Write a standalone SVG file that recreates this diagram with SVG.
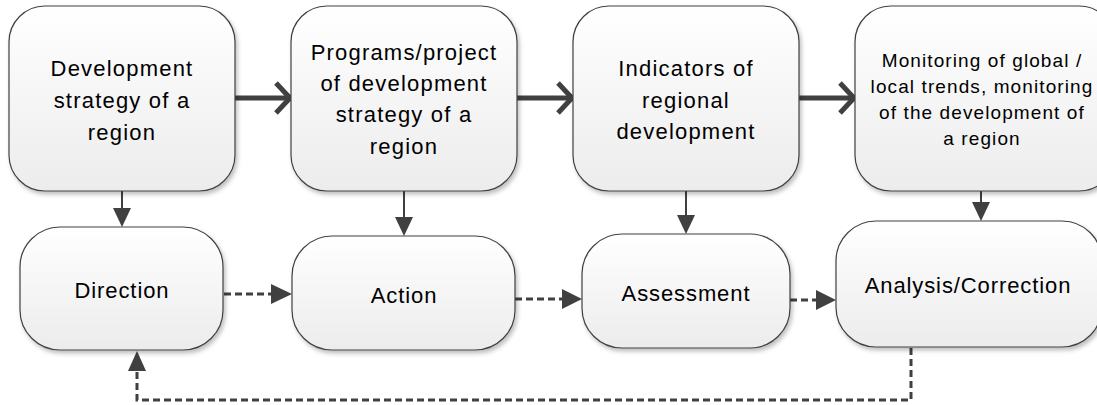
<svg xmlns="http://www.w3.org/2000/svg" width="1097" height="405" viewBox="0 0 1097 405">
  <defs>
    <linearGradient id="boxFill" x1="0" y1="0" x2="0" y2="1">
      <stop offset="0" stop-color="#ffffff"/>
      <stop offset="1" stop-color="#ececec"/>
    </linearGradient>
    <filter id="shadow" x="-10%" y="-10%" width="125%" height="130%">
      <feDropShadow dx="2" dy="3" stdDeviation="2" flood-color="#000" flood-opacity="0.25"/>
    </filter>
    <marker id="tri" viewBox="0 0 10 10" refX="10" refY="5" markerWidth="9" markerHeight="9" markerUnits="userSpaceOnUse" orient="auto">
      <path d="M0,0 L10,5 L0,10 Z" fill="#404040"/>
    </marker>
  </defs>
  <style>
    .box { fill: url(#boxFill); stroke: #404040; stroke-width: 1.2; filter: url(#shadow); }
    .t { font-family: "Liberation Sans", Arial, sans-serif; font-size: 22px; letter-spacing: 1.2px; fill: #000; text-anchor: middle; }
    .s { font-size: 19px; letter-spacing: 1.1px; }
    .b { letter-spacing: 0.9px; }
    .thick { fill: none; stroke: #404040; stroke-width: 5; }
    .thin { fill: none; stroke: #404040; stroke-width: 2; }
    .dash { fill: none; stroke: #404040; stroke-width: 3; stroke-dasharray: 7 4; }
    .head { fill: #404040; stroke: none; }
  </style>

  <!-- connectors -->
  <g id="connectors">
    <!-- strategy chain, bold open arrows -->
    <line class="thick" x1="233" y1="98" x2="289" y2="98"/>
    <polyline class="thick" points="276,83 290,98 276,113"/>
    <line class="thick" x1="515" y1="98" x2="571" y2="98"/>
    <polyline class="thick" points="558,83 572,98 558,113"/>
    <line class="thick" x1="797" y1="98" x2="853" y2="98"/>
    <polyline class="thick" points="840,83 854,98 840,113"/>

    <!-- top row down to bottom row -->
    <line class="thin" x1="122" y1="191" x2="122" y2="210"/>
    <path class="head" d="M113,208 L131,208 L122,227 Z"/>
    <line class="thin" x1="404" y1="191" x2="404" y2="219"/>
    <path class="head" d="M395,217 L413,217 L404,236 Z"/>
    <line class="thin" x1="686" y1="191" x2="686" y2="217"/>
    <path class="head" d="M677,215 L695,215 L686,234 Z"/>
    <polyline class="thin" points="967,190 981,190 981,204"/>
    <path class="head" d="M972,202 L990,202 L981,221 Z"/>

    <!-- dashed flow along bottom row -->
    <line class="dash" x1="224" y1="294" x2="272" y2="294"/>
    <path class="head" d="M271,284 L292,294 L271,304 Z"/>
    <line class="dash" x1="515" y1="299" x2="563" y2="299"/>
    <path class="head" d="M562,289 L582,299 L562,309 Z"/>
    <line class="dash" x1="790" y1="300" x2="817" y2="300"/>
    <path class="head" d="M816,290 L836,300 L816,310 Z"/>

    <!-- feedback loop back to Direction -->
    <polyline class="dash" points="911,348 911,400 137,400 137,371"/>
    <path class="head" d="M128,371 L146,371 L137,351 Z"/>
  </g>

  <!-- top row -->
  <g id="strategy">
    <rect class="box" x="9" y="6" width="226" height="185" rx="36" ry="36"/>
    <text class="t" x="122" y="76">Development</text>
    <text class="t" x="122" y="108">strategy of a</text>
    <text class="t" x="122" y="140">region</text>
  </g>
  <g id="programs">
    <rect class="box" x="291" y="6" width="226" height="185" rx="36" ry="36"/>
    <text class="t" x="404" y="60">Programs/project</text>
    <text class="t" x="404" y="91">of development</text>
    <text class="t" x="404" y="122">strategy of a</text>
    <text class="t" x="404" y="154">region</text>
  </g>
  <g id="indicators">
    <rect class="box" x="573" y="6" width="226" height="185" rx="36" ry="36"/>
    <text class="t" x="686" y="76">Indicators of</text>
    <text class="t" x="686" y="108">regional</text>
    <text class="t" x="686" y="139">development</text>
  </g>
  <g id="monitoring">
    <rect class="box" x="855" y="6" width="260" height="185" rx="36" ry="36"/>
    <text class="t s" x="982" y="67">Monitoring of global /</text>
    <text class="t s" x="982" y="93">local trends, monitoring</text>
    <text class="t s" x="982" y="119">of the development of</text>
    <text class="t s" x="982" y="145">a region</text>
  </g>

  <!-- bottom row -->
  <g id="direction">
    <rect class="box" x="20" y="227" width="203" height="123" rx="40" ry="40"/>
    <text class="t b" x="122" y="298">Direction</text>
  </g>
  <g id="action">
    <rect class="box" x="292" y="236" width="223" height="114" rx="40" ry="40"/>
    <text class="t b" x="404" y="303">Action</text>
  </g>
  <g id="assessment">
    <rect class="box" x="582" y="234" width="208" height="114" rx="40" ry="40"/>
    <text class="t b" x="686" y="301">Assessment</text>
  </g>
  <g id="analysis">
    <rect class="box" x="836" y="221" width="266" height="126" rx="40" ry="40"/>
    <text class="t b" x="968" y="293">Analysis/Correction</text>
  </g>
</svg>
